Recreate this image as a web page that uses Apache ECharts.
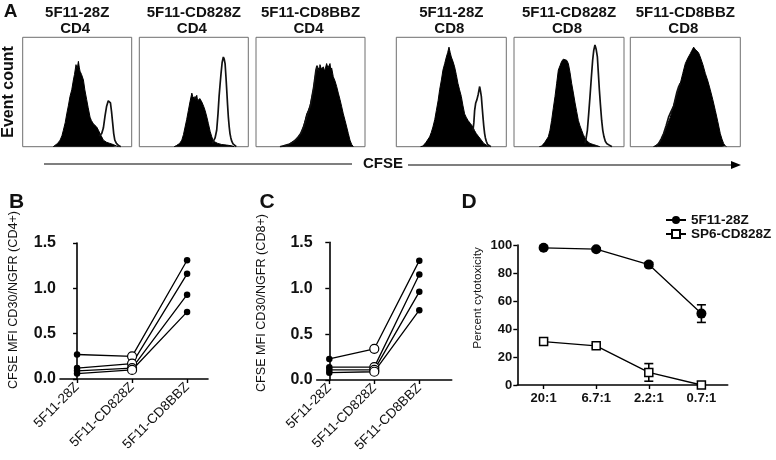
<!DOCTYPE html>
<html>
<head>
<meta charset="utf-8">
<script src="https://cdn.jsdelivr.net/npm/echarts@6/dist/echarts.min.js"></script>
<style>
html,body{margin:0;padding:0;background:#fff;}
#chart{width:776px;height:460px;}
</style>
</head>
<body>
<div id="chart"></div>
<script>
// ---------------- DATA ----------------
const boxTitles = ['5F11-28Z', '5F11-CD828Z', '5F11-CD8BBZ', '5F11-28Z', '5F11-CD828Z', '5F11-CD8BBZ'];
const boxSubsets = ['CD4', 'CD4', 'CD4', 'CD8', 'CD8', 'CD8'];

// CFSE histograms: [CFSE channel (0-100), event count (% of max)]
const histFilled1 = [[28,0],[29.7,1],[32,3],[34.3,6],[36,10],[37.3,15],[39,22],[40.4,30],[42,38],[43.4,46],[45,52],[46.5,61],[47.5,66],[48.9,75],[50,71],[51.1,78],[52,72],[52.6,69],[54,66],[55.7,61],[57,52],[58.7,43],[60,36],[61.8,27],[63,24],[64.8,21],[66,20],[67.9,18],[69.5,15],[70.9,12],[72.5,9],[74,6],[77,4],[80,3],[83,2],[86.2,0.6],[88,0]];
const histOpen1 = [[70,10],[72.5,12],[74,17],[75.5,28],[77,37],[78.5,42],[79.5,43],[80.5,40],[81.5,32],[82.5,22],[83.5,12],[84.5,6],[86,3],[88,1],[90,0]];
const histFilled2 = [[32,0],[34,1],[37,3],[39,6],[40.5,11],[42,18],[43.5,25],[45,33],[46.5,41],[48.2,49],[49,46],[49.7,47],[50.5,44],[51.2,46],[52,43],[52.7,47],[53.5,42],[54.3,43],[55.5,44],[57.3,41],[59,37],[60.4,33],[62,27],[63.4,21],[65,14],[66.5,9],[68,5],[69.5,4],[72,3],[75.6,2],[80,1.5],[84.8,0.8],[87,0]];
const histOpen2 = [[67,3],[68,3],[69.5,8],[71,15],[72.2,30],[73.2,46],[74.2,58],[75,67],[76,77],[77.1,82],[77.9,80],[78.7,76],[79.5,64],[80.2,52],[81,38],[81.7,27],[82.5,18],[83.2,12],[84,8],[84.8,5],[86,2.5],[87.8,1],[89,0]];
const histFilled3 = [[24,0],[25,0.6],[30,2],[34.3,5],[37,7],[40.4,11],[42,14],[43.4,18],[45,24],[46.5,30],[48,33],[49.5,37],[51,44],[52.6,52],[54,62],[55.7,73],[56.5,70],[57.2,72],[58,68],[58.7,75],[60,71],[61.8,73],[63,69],[64.8,76],[66,72],[67.9,76],[68.6,70],[69.4,72],[70.9,64],[72.5,60],[74,55],[75.5,49],[77.1,43],[78.5,37],[80.1,30],[81.7,24],[83.2,18],[84.7,12],[86.2,6],[87.8,2],[89.3,0]];
const histOpen3 = [[22,0],[26,1],[31,2.5],[35,5],[38,8],[41,12],[44,19],[47,29],[50,38],[53,55],[55,70],[56,74],[57,70]];
const histFilled4 = [[22,0],[24.2,0.6],[27,4],[30.3,9],[31.8,13],[33.3,18],[35,25],[36.4,33],[38,42],[39.4,52],[41,61],[42.4,70],[44,76],[45.5,82],[46.7,86],[47.9,91],[49,86],[50,82],[51.5,78],[53,73],[54.5,66],[56,58],[57.5,52],[59.1,46],[60.5,38],[62.1,30],[63.5,27],[65.2,24],[67.5,21],[69.7,18],[71,15],[72.7,12],[75,9],[77.3,6],[79.5,3],[81.8,1.5],[84,0]];
const histOpen4 = [[69.7,15],[70.5,22],[71.2,33],[72.2,40],[73.3,43],[74.5,48],[75.8,55],[76.5,51],[77.3,46],[78,37],[78.8,27],[79.5,19],[80.3,12],[81,8],[81.8,5],[83,2],[84.8,0.6],[86,0]];
const histFilled5 = [[23,0],[25.2,0.6],[28,4],[31.2,9],[32.7,15],[34.2,24],[35.7,35],[37.3,46],[38.8,58],[40.3,70],[41.8,74],[43.3,78],[44.8,80],[46.4,81],[47.9,79],[49.4,76],[50.9,68],[52.4,58],[54,49],[55.5,40],[57,32],[58.5,24],[60,19],[61.5,15],[63,11],[64.5,8],[66.5,5],[69.1,3],[72,2],[75.2,1],[78,0]];
const histOpen5 = [[64.5,3],[65.6,8],[66.7,15],[67.9,30],[69.1,46],[70.3,63],[71.5,79],[72.5,88],[73.6,93],[74.7,89],[75.8,82],[76.7,67],[77.6,52],[78.6,38],[79.7,24],[80.7,15],[81.8,9],[83,5],[84.2,3],[85.7,1.5],[87.3,1],[89,0]];
const histFilled6 = [[21,0],[22.7,0.6],[25,2],[27.3,5],[29.5,10],[31.8,15],[34,21],[36.4,27],[38.6,35],[40.9,43],[43.2,50],[45.5,58],[47.7,67],[50,76],[52.3,81],[54.5,85],[56,88],[57.6,91],[59,89],[60.6,89],[62,86],[63.6,82],[66,75],[68.2,67],[70.5,60],[72.7,52],[75,43],[77.3,33],[79.5,23],[81.8,12],[83.3,7],[84.8,3],[86.4,0.6],[87.5,0]];
const histOpen6 = [[23,0],[25.8,3],[28,7],[30.3,12],[32.5,19],[34.8,27],[37,32],[39.4,37],[41,44],[42.4,50],[44,55],[45.5,58]];

// Panels B and C: CFSE MFI ratio per donor for each CAR
const carCategories = ['5F11-28Z', '5F11-CD828Z', '5F11-CD8BBZ'];
const cd4Donor1 = [0.27, 0.25, 1.31];
const cd4Donor2 = [0.12, 0.17, 1.16];
const cd4Donor3 = [0.09, 0.12, 0.93];
const cd4Donor4 = [0.06, 0.10, 0.74];
const cd8Donor1 = [0.23, 0.34, 1.30];
const cd8Donor2 = [0.14, 0.14, 1.15];
const cd8Donor3 = [0.11, 0.11, 0.96];
const cd8Donor4 = [0.08, 0.09, 0.76];

// Panel D: cytotoxicity
const etRatios = ['20:1', '6.7:1', '2.2:1', '0.7:1'];
const cyto28Z = [98, 97, 86, 51];
const err28Z = [1, 1, 1.5, 6.3];
const cytoSP6 = [31, 28, 9, 0];
const errSP6 = [1.5, 1.5, 6.3, 0.5];

// ---------------- LAYOUT ----------------
const FONT = "'Liberation Sans', Arial, Helvetica, sans-serif";
const boxes = [
  {left: 22.7, width: 109},
  {left: 139.3, width: 109},
  {left: 256, width: 109},
  {left: 396.3, width: 110},
  {left: 514, width: 110},
  {left: 630.3, width: 110}
];
const boxTop = 37.3, boxHeight = 109.4;
const filledSets = [histFilled1, histFilled2, histFilled3, histFilled4, histFilled5, histFilled6];
const openSets = [histOpen1, histOpen2, histOpen3, histOpen4, histOpen5, histOpen6];

const grid = [], xAxis = [], yAxis = [], series = [], graphic = [];

boxes.forEach((b, i) => {
  grid.push({left: b.left, top: boxTop, width: b.width, height: boxHeight,
    show: true, borderColor: '#6e6e6e', borderWidth: 1, backgroundColor: '#fff'});
  xAxis.push({type: 'value', gridIndex: i, min: 0, max: 100, show: false});
  yAxis.push({type: 'value', gridIndex: i, min: 0, max: 100, show: false});
  series.push({type: 'line', xAxisIndex: i, yAxisIndex: i, data: filledSets[i], symbol: 'none',
    lineStyle: {color: '#000', width: 1}, areaStyle: {color: '#000', opacity: 1}, z: 2, silent: true});
  series.push({type: 'line', xAxisIndex: i, yAxisIndex: i, data: openSets[i], symbol: 'none',
    lineStyle: {color: '#111', width: 1.7}, z: 3, silent: true});
  const cx = b.left + b.width / 2;
  graphic.push({type: 'text', x: cx, y: 13, style: {text: boxTitles[i], font: `bold 15px ${FONT}`, fill: '#111', align: 'center', verticalAlign: 'middle'}});
  graphic.push({type: 'text', x: cx - 2, y: 28.5, style: {text: boxSubsets[i], font: `bold 15px ${FONT}`, fill: '#111', align: 'center', verticalAlign: 'middle'}});
});

// Panels B & C
function donorSeries(vals, gi) {
  return {
    type: 'line', xAxisIndex: gi, yAxisIndex: gi,
    data: vals.map((v, k) => k === 1
      ? {value: [k, v], symbol: 'circle', symbolSize: 9, itemStyle: {color: '#fff', borderColor: '#000', borderWidth: 1.2}}
      : {value: [k, v], symbol: 'circle', symbolSize: 6.5, itemStyle: {color: '#000'}}),
    lineStyle: {color: '#000', width: 1.3}, z: 3, silent: true
  };
}
function ratioAxes(gi, xmin, xmax) {
  xAxis.push({type: 'value', gridIndex: gi, min: xmin, max: xmax,
    axisLine: {show: true, onZero: false, lineStyle: {color: '#000', width: 1.6}},
    axisTick: {show: true, customValues: [0, 1, 2], length: 4, lineStyle: {color: '#000', width: 1.4}},
    axisLabel: {show: true, customValues: [0, 1, 2], rotate: 45, margin: 6,
      formatter: v => carCategories[Math.round(v)], fontFamily: FONT, fontSize: 13.5, color: '#111'},
    splitLine: {show: false}});
  yAxis.push({type: 'value', gridIndex: gi, min: 0, max: 1.5, interval: 0.5,
    axisLine: {show: true, lineStyle: {color: '#000', width: 1.6}},
    axisTick: {show: true, length: 4, lineStyle: {color: '#000', width: 1.4}},
    axisLabel: {fontFamily: FONT, fontSize: 16, fontWeight: 'bold', color: '#111', margin: 4,
      formatter: v => v.toFixed(1)},
    splitLine: {show: false}});
}
// B
grid.push({left: 60, top: 243, width: 148, height: 136});
ratioAxes(6, -0.31, 2.38);
[cd4Donor1, cd4Donor2, cd4Donor3, cd4Donor4].forEach(d => series.push(donorSeries(d, 6)));
// C
grid.push({left: 316.7, top: 242.3, width: 135, height: 137.7});
ratioAxes(7, -0.28, 2.72);
[cd8Donor1, cd8Donor2, cd8Donor3, cd8Donor4].forEach(d => series.push(donorSeries(d, 7)));

// D
grid.push({left: 517.3, top: 245, width: 210.4, height: 140});
xAxis.push({type: 'category', gridIndex: 8, data: etRatios, boundaryGap: true,
  axisLine: {show: true, lineStyle: {color: '#000', width: 1.6}},
  axisTick: {show: true, alignWithLabel: true, length: 4, lineStyle: {color: '#000', width: 1.4}},
  axisLabel: {fontFamily: FONT, fontSize: 13, fontWeight: 'bold', color: '#111', margin: 7}});
yAxis.push({type: 'value', gridIndex: 8, min: 0, max: 100, interval: 20,
  axisLine: {show: true, lineStyle: {color: '#000', width: 1.6}},
  axisTick: {show: true, length: 4, lineStyle: {color: '#000', width: 1.4}},
  axisLabel: {fontFamily: FONT, fontSize: 13, fontWeight: 'bold', color: '#111', margin: 5},
  splitLine: {show: false}});

function errSeries(vals, errs) {
  return {
    type: 'custom', xAxisIndex: 8, yAxisIndex: 8, z: 2, silent: true,
    data: vals.map((v, k) => [k, v - errs[k], v + errs[k]]),
    renderItem: (params, api) => {
      const lo = api.coord([api.value(0), api.value(1)]);
      const hi = api.coord([api.value(0), api.value(2)]);
      const w = 4.5;
      const st = {stroke: '#000', lineWidth: 1.6};
      return {type: 'group', children: [
        {type: 'line', shape: {x1: lo[0], y1: lo[1], x2: hi[0], y2: hi[1]}, style: st},
        {type: 'line', shape: {x1: lo[0] - w, y1: lo[1], x2: lo[0] + w, y2: lo[1]}, style: st},
        {type: 'line', shape: {x1: hi[0] - w, y1: hi[1], x2: hi[0] + w, y2: hi[1]}, style: st}
      ]};
    }
  };
}
series.push(errSeries(cyto28Z, err28Z));
series.push(errSeries(cytoSP6, errSP6));
series.push({name: '5F11-28Z', type: 'line', xAxisIndex: 8, yAxisIndex: 8, data: cyto28Z,
  symbol: 'circle', symbolSize: 10, itemStyle: {color: '#000'}, lineStyle: {color: '#000', width: 1.3}, z: 3});
series.push({name: 'SP6-CD828Z', type: 'line', xAxisIndex: 8, yAxisIndex: 8, data: cytoSP6,
  symbol: 'rect', symbolSize: 8, itemStyle: {color: '#fff', borderColor: '#000', borderWidth: 1.5},
  lineStyle: {color: '#000', width: 1.3}, z: 3});

// Annotation texts
const txt = (x, y, s, font, extra) => Object.assign({type: 'text', x, y,
  style: {text: s, font: font, fill: '#111', align: 'center', verticalAlign: 'middle'}}, extra || {});
graphic.push(txt(10.5, 12, 'A', `bold 19px ${FONT}`));
graphic.push(txt(16.5, 202, 'B', `bold 21px ${FONT}`));
graphic.push(txt(267, 202, 'C', `bold 21px ${FONT}`));
graphic.push(txt(469, 202, 'D', `bold 21px ${FONT}`));
graphic.push(txt(9, 92, 'Event count', `bold 16px ${FONT}`, {rotation: Math.PI / 2}));
graphic.push(txt(13.5, 300, 'CFSE MFI CD30/NGFR (CD4+)', `12.6px ${FONT}`, {rotation: Math.PI / 2}));
graphic.push(txt(262, 303, 'CFSE MFI CD30/NGFR (CD8+)', `12.6px ${FONT}`, {rotation: Math.PI / 2}));
graphic.push(txt(478, 298, 'Percent cytotoxicity', `11.8px ${FONT}`, {rotation: Math.PI / 2}));
graphic.push(txt(383, 164, 'CFSE', `bold 15px ${FONT}`));
graphic.push({type: 'line', shape: {x1: 44, y1: 164, x2: 352, y2: 164}, style: {stroke: '#000', lineWidth: 1.2}});
graphic.push({type: 'line', shape: {x1: 408, y1: 165, x2: 733, y2: 165}, style: {stroke: '#000', lineWidth: 1.2}});
graphic.push({type: 'polygon', shape: {points: [[731, 161], [741, 165], [731, 169]]}, style: {fill: '#000'}});

const chart = echarts.init(document.getElementById('chart'), null, {renderer: 'canvas'});
chart.setOption({
  animation: false,
  backgroundColor: '#fff',
  grid, xAxis, yAxis, series, graphic,
  legend: {
    data: ['5F11-28Z', 'SP6-CD828Z'], orient: 'vertical', left: 664, top: 212,
    itemWidth: 20, itemHeight: 10, itemGap: 0, padding: 1,
    textStyle: {fontFamily: FONT, fontSize: 13.5, fontWeight: 'bold', color: '#111', lineHeight: 13},
    selectedMode: false
  }
});
</script>
</body>
</html>
